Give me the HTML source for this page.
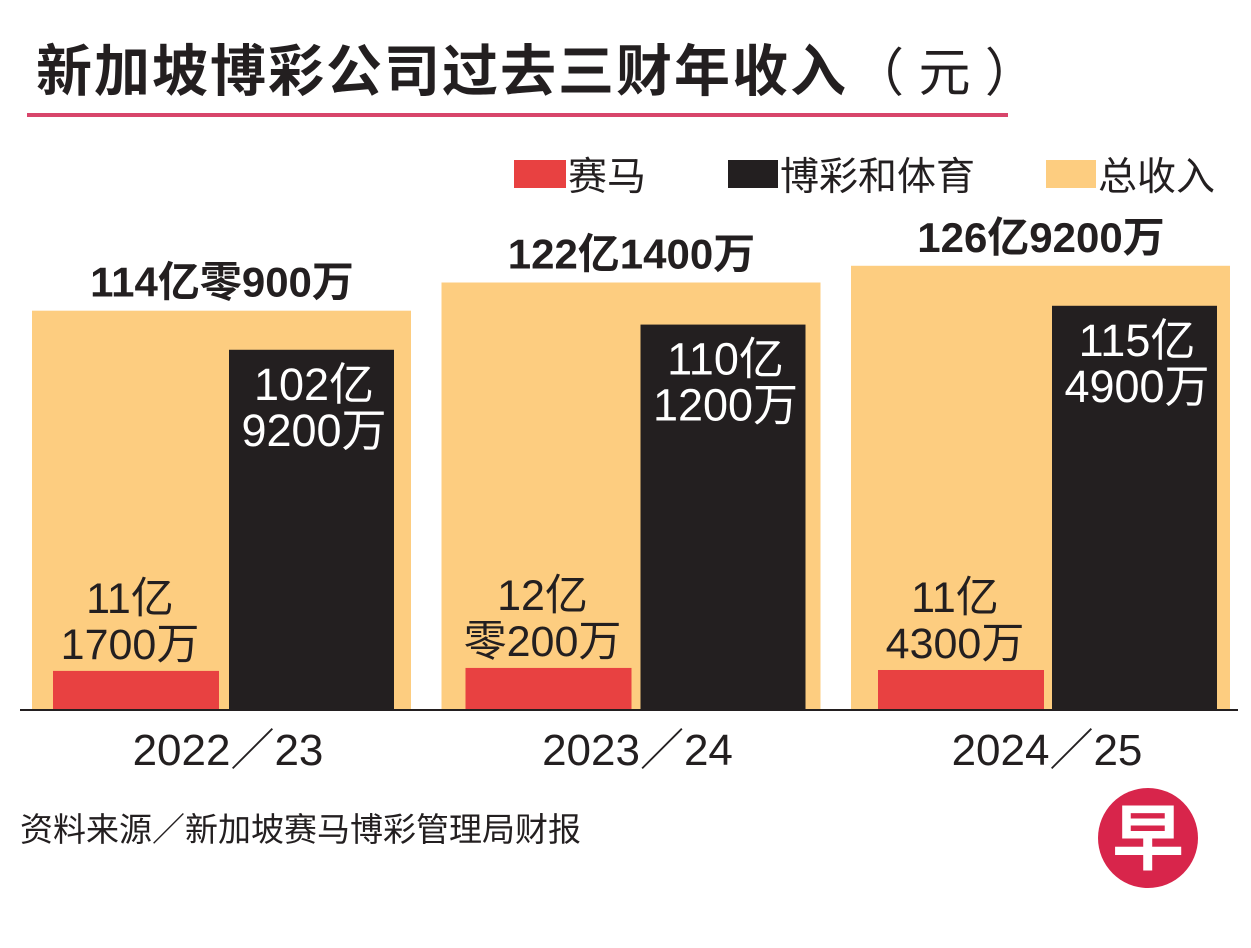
<!DOCTYPE html>
<html><head><meta charset="utf-8">
<style>
body{margin:0;width:1251px;height:943px;background:#fff;overflow:hidden;font-family:"Liberation Sans","Noto Sans CJK SC",sans-serif;}
svg text{font-family:"Liberation Sans","Noto Sans CJK SC",sans-serif;}
</style></head>
<body>
<svg id="chart" width="1251" height="943">
<text x="36" y="91" font-size="56" letter-spacing="2" font-weight="bold" fill="#231f20">新加坡博彩公司过去三财年收入<tspan font-weight="normal" letter-spacing="0" font-size="52" dx="4">（ 元 ）</tspan></text>
<rect x="27" y="113" width="981" height="4" fill="#d8456b"/>
<g>
<rect x="514" y="160" width="52" height="28" fill="#e84141"/>
<text x="568" y="190" font-size="39" fill="#231f20">赛马</text>
<rect x="728" y="160" width="50" height="28" fill="#231f20"/>
<text x="780" y="190" font-size="39" fill="#231f20">博彩和体育</text>
<rect x="1046" y="160" width="50" height="28" fill="#fdcd80"/>
<text x="1098" y="190" font-size="39" fill="#231f20">总收入</text>
</g>
<g id="bars"></g>
<rect x="20" y="709" width="1218" height="2" fill="#231f20"/>
<text x="20" y="841" font-size="33" fill="#231f20">资料来源／新加坡赛马博彩管理局财报</text>
<g>
<circle cx="1148" cy="838" r="50" fill="#d8254b"/>
<text x="1148" y="864" font-size="72" font-weight="bold" fill="#fff" text-anchor="middle">早</text>
</g>
</svg>
<script>
const categories=["2022／23","2023／24","2024／25"];
const racing=[11.17,12.02,11.43];
const gaming=[102.92,110.12,115.49];
const totals=[114.09,122.14,126.92];
const racingLabels=[["11亿","1700万"],["12亿","零200万"],["11亿","4300万"]];
const gamingLabels=[["102亿","9200万"],["110亿","1200万"],["115亿","4900万"]];
const totalLabels=["114亿零900万","122亿1400万","126亿9200万"];
const NS="http://www.w3.org/2000/svg";
const base=710,scale=3.5;
const y=v=>base-v*scale;
const groupX=i=>32+i*409.5;
const g=document.getElementById('bars');
function mk(tag,attrs,txt){const e=document.createElementNS(NS,tag);for(const k in attrs)e.setAttribute(k,attrs[k]);if(txt!==undefined)e.textContent=txt;g.appendChild(e);return e;}
categories.forEach((c,i)=>{
 const gx=groupX(i);
 let e=mk('rect',{x:gx,y:y(totals[i]),width:379,height:base-y(totals[i]),fill:'#fdcd80'});
 
 
 e=mk('rect',{x:gx+21+i*3,y:y(racing[i]),width:166,height:base-y(racing[i]),fill:'#e84141'});
 
 
 e=mk('rect',{x:gx+197+i*2,y:y(gaming[i]),width:165,height:base-y(gaming[i]),fill:'#231f20'});
 
 
 e=mk('text',{x:gx+190,y:y(totals[i])-14,'font-size':42,'font-weight':'bold','text-anchor':'middle',fill:'#231f20'},totalLabels[i]);
 
 
 racingLabels[i].forEach((t,j)=>{
  e=mk('text',{x:gx+98+i*3,y:y(racing[i])-58+j*46,'font-size':43,'text-anchor':'middle',fill:'#231f20'},t);
  
  
 });
 gamingLabels[i].forEach((t,j)=>{
  e=mk('text',{x:gx+282+i*2,y:y(gaming[i])+50+j*46,'font-size':45,'text-anchor':'middle',fill:'#fff'},t);
  
  
 });
 e=mk('text',{x:gx+196,y:765,'font-size':44,'text-anchor':'middle',fill:'#231f20'},c);
 
 
});
</script>
</body></html>
